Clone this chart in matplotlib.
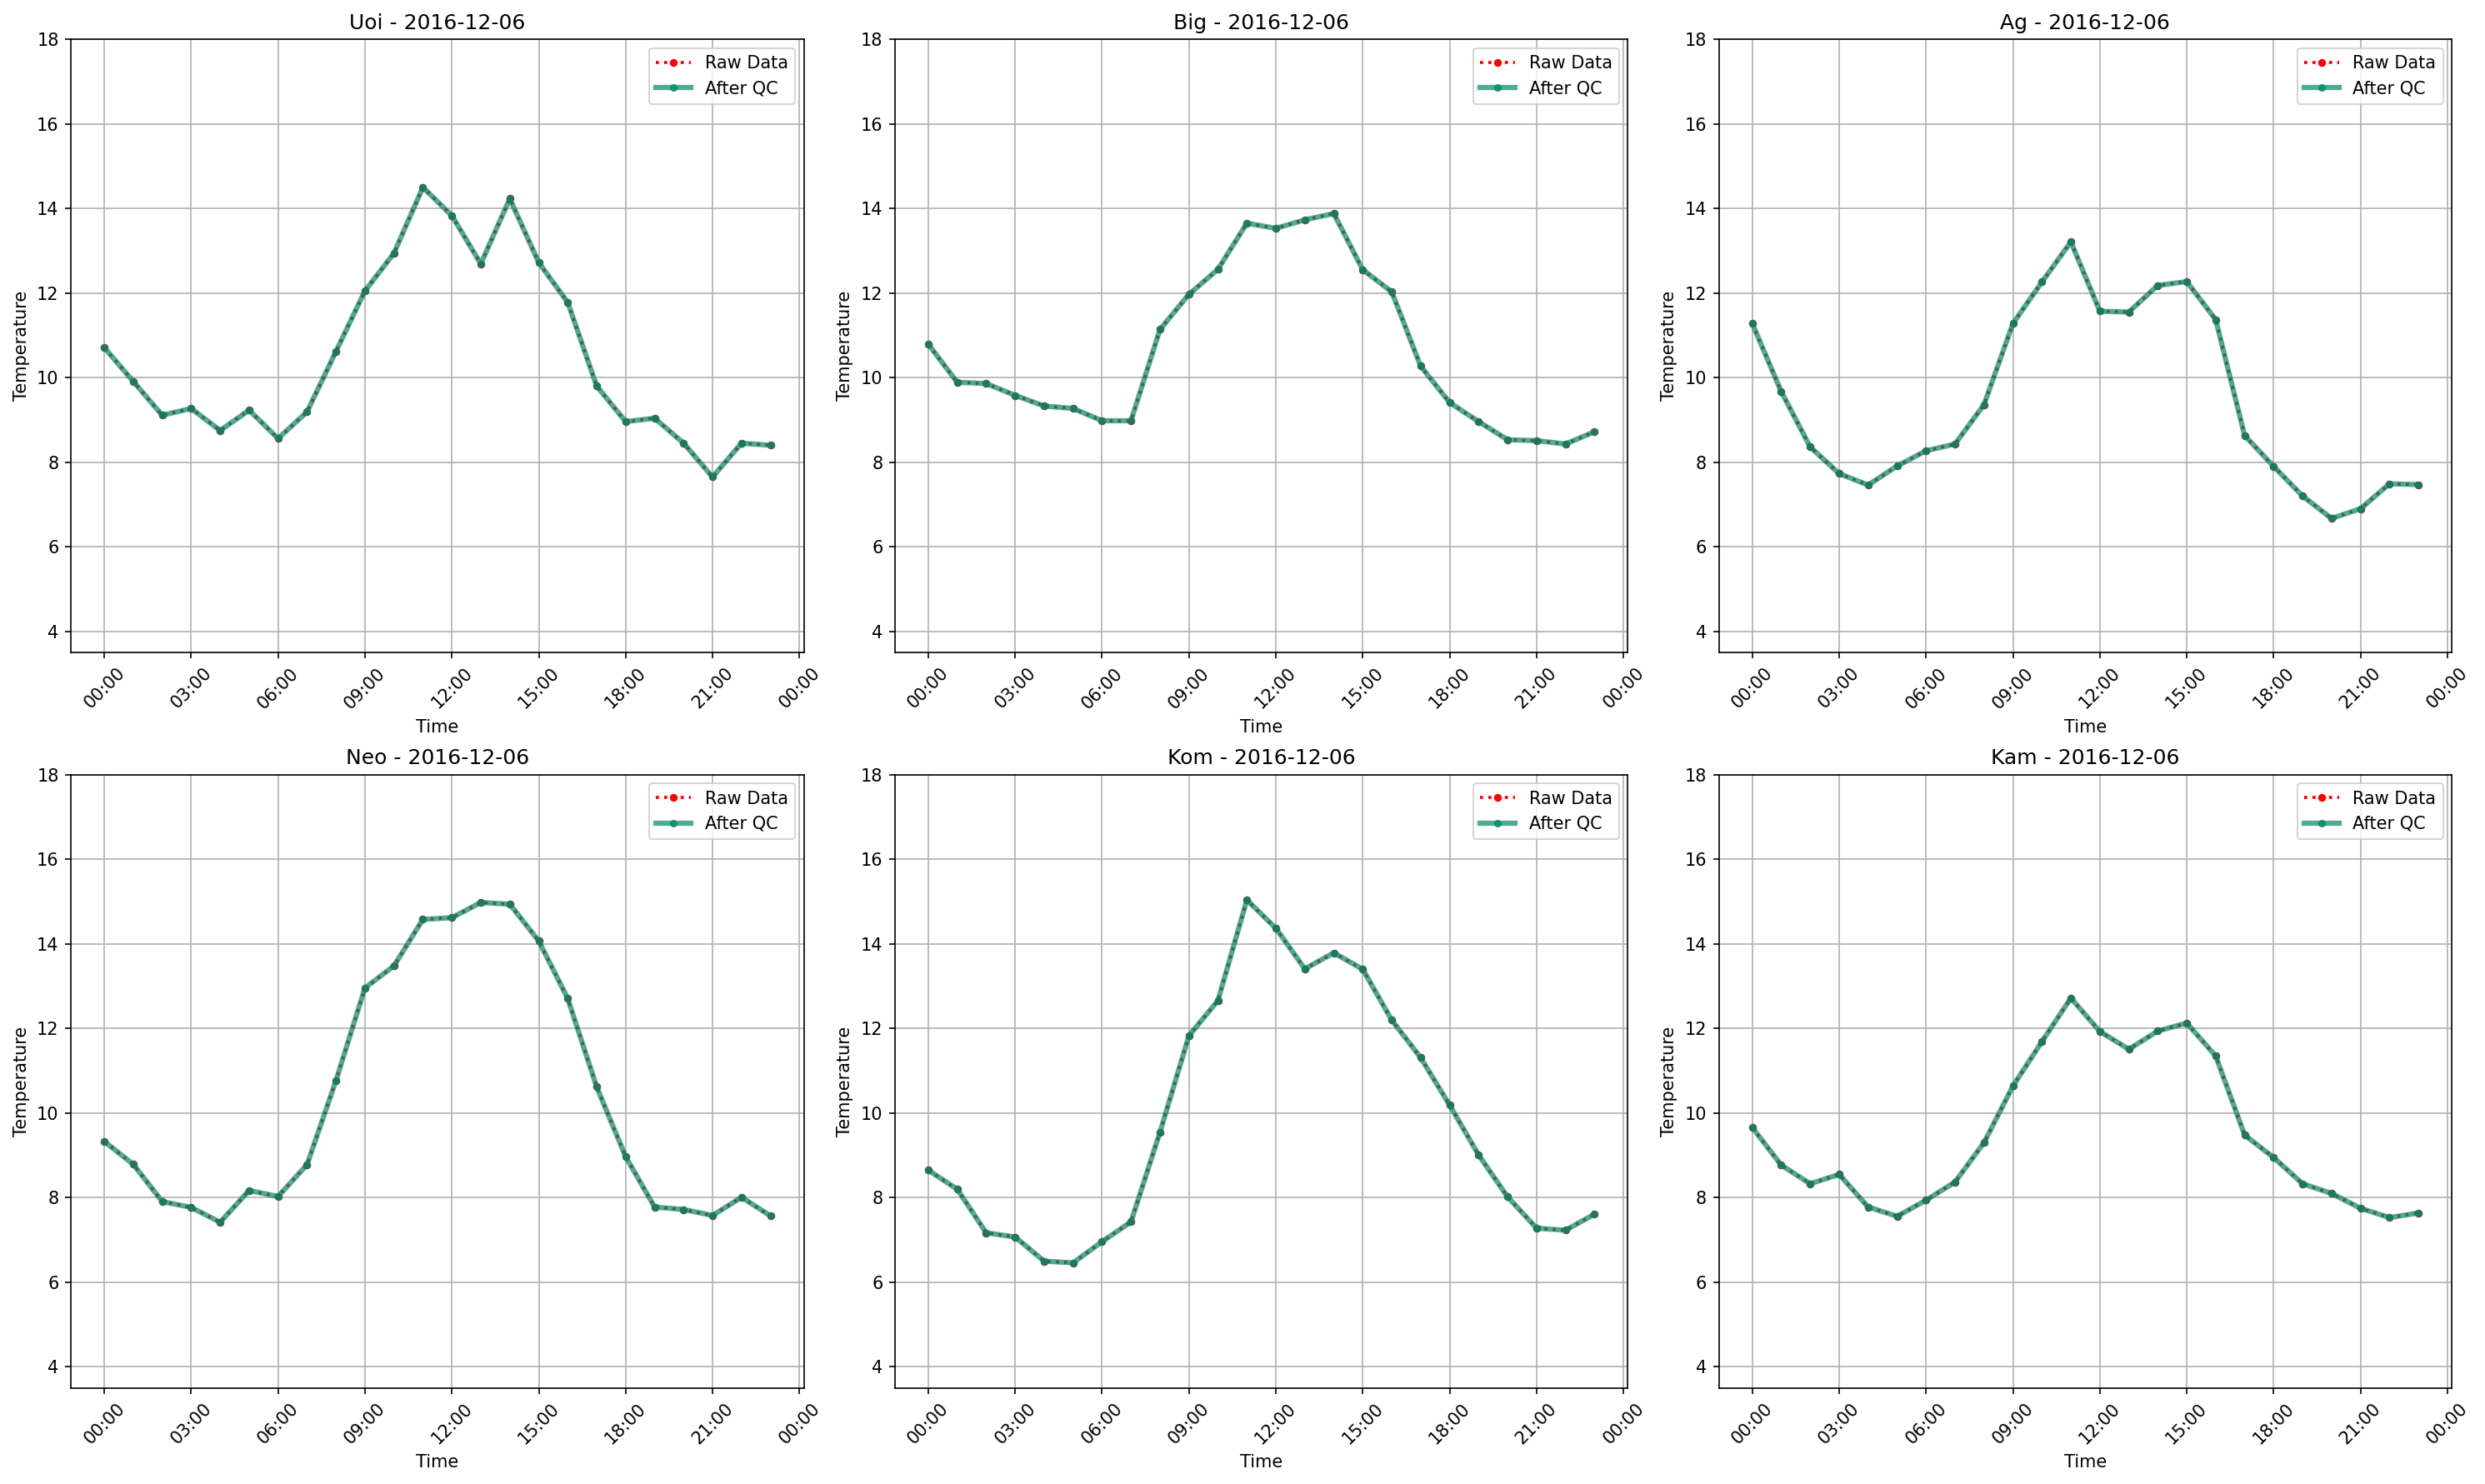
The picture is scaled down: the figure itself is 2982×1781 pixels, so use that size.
import matplotlib
matplotlib.use("Agg")
import matplotlib.pyplot as plt
import matplotlib.dates as mdates
import pandas as pd

date_label = "2016-12-06"
hours = pd.date_range("2016-12-06 00:00", periods=24, freq="h")

stations = ["Uoi", "Big", "Ag", "Neo", "Kom", "Kam"]

uoi = [10.71, 9.91, 9.11, 9.27, 8.75, 9.23, 8.56, 9.19, 10.62, 12.05, 12.94, 14.50,
       13.83, 12.69, 14.23, 12.72, 11.78, 9.80, 8.96, 9.04, 8.45, 7.65, 8.45, 8.40]
big = [10.79, 9.89, 9.86, 9.58, 9.33, 9.27, 8.98, 8.98, 11.14, 11.97, 12.56, 13.65,
       13.53, 13.73, 13.88, 12.55, 12.03, 10.27, 9.41, 8.96, 8.53, 8.51, 8.43, 8.72]
ag = [11.28, 9.67, 8.36, 7.73, 7.46, 7.91, 8.27, 8.43, 9.36, 11.28, 12.26, 13.21,
      11.57, 11.55, 12.18, 12.27, 11.37, 8.63, 7.90, 7.20, 6.67, 6.90, 7.49, 7.47]
neo = [9.33, 8.79, 7.91, 7.77, 7.42, 8.17, 8.03, 8.78, 10.77, 12.96, 13.48, 14.58,
       14.62, 14.98, 14.94, 14.07, 12.71, 10.62, 8.97, 7.78, 7.72, 7.58, 8.01, 7.57]
kom = [8.65, 8.20, 7.17, 7.07, 6.50, 6.46, 6.96, 7.43, 9.55, 11.83, 12.66, 15.04,
       14.37, 13.41, 13.79, 13.40, 12.20, 11.31, 10.19, 9.01, 8.02, 7.28, 7.23, 7.61]
kam = [9.66, 8.77, 8.33, 8.55, 7.78, 7.56, 7.94, 8.37, 9.30, 10.64, 11.69, 12.72,
       11.93, 11.51, 11.94, 12.13, 11.35, 9.48, 8.95, 8.33, 8.10, 7.75, 7.53, 7.64]

raw_series = [uoi, big, ag, neo, kom, kam]
qc_series = [uoi, big, ag, neo, kom, kam]

DPI = 150
fig, axes = plt.subplots(2, 3, figsize=(2982 / DPI, 1781 / DPI), dpi=DPI)
for ax, name, raw, qc in zip(axes.flat, stations, raw_series, qc_series):
    ax.plot(hours, raw, 'r:', marker='o', markersize=3.5, linewidth=1.8, label='Raw Data')
    ax.plot(hours, qc, color='#068669', marker='o', markersize=3.5, linewidth=3,
            alpha=0.7, label='After QC')
    ax.set_title(f"{name} - {date_label}")
    ax.set_xlabel("Time")
    ax.set_ylabel("Temperature")
    ax.set_ylim(3.5, 18)
    ax.xaxis.set_major_locator(mdates.HourLocator(interval=3))
    ax.xaxis.set_major_formatter(mdates.DateFormatter('%H:%M'))
    ax.tick_params(axis='x', rotation=45)
    ax.grid(True)
    ax.legend(loc='upper right')

fig.tight_layout(pad=0.75)
fig.savefig("out.png", dpi=DPI)
